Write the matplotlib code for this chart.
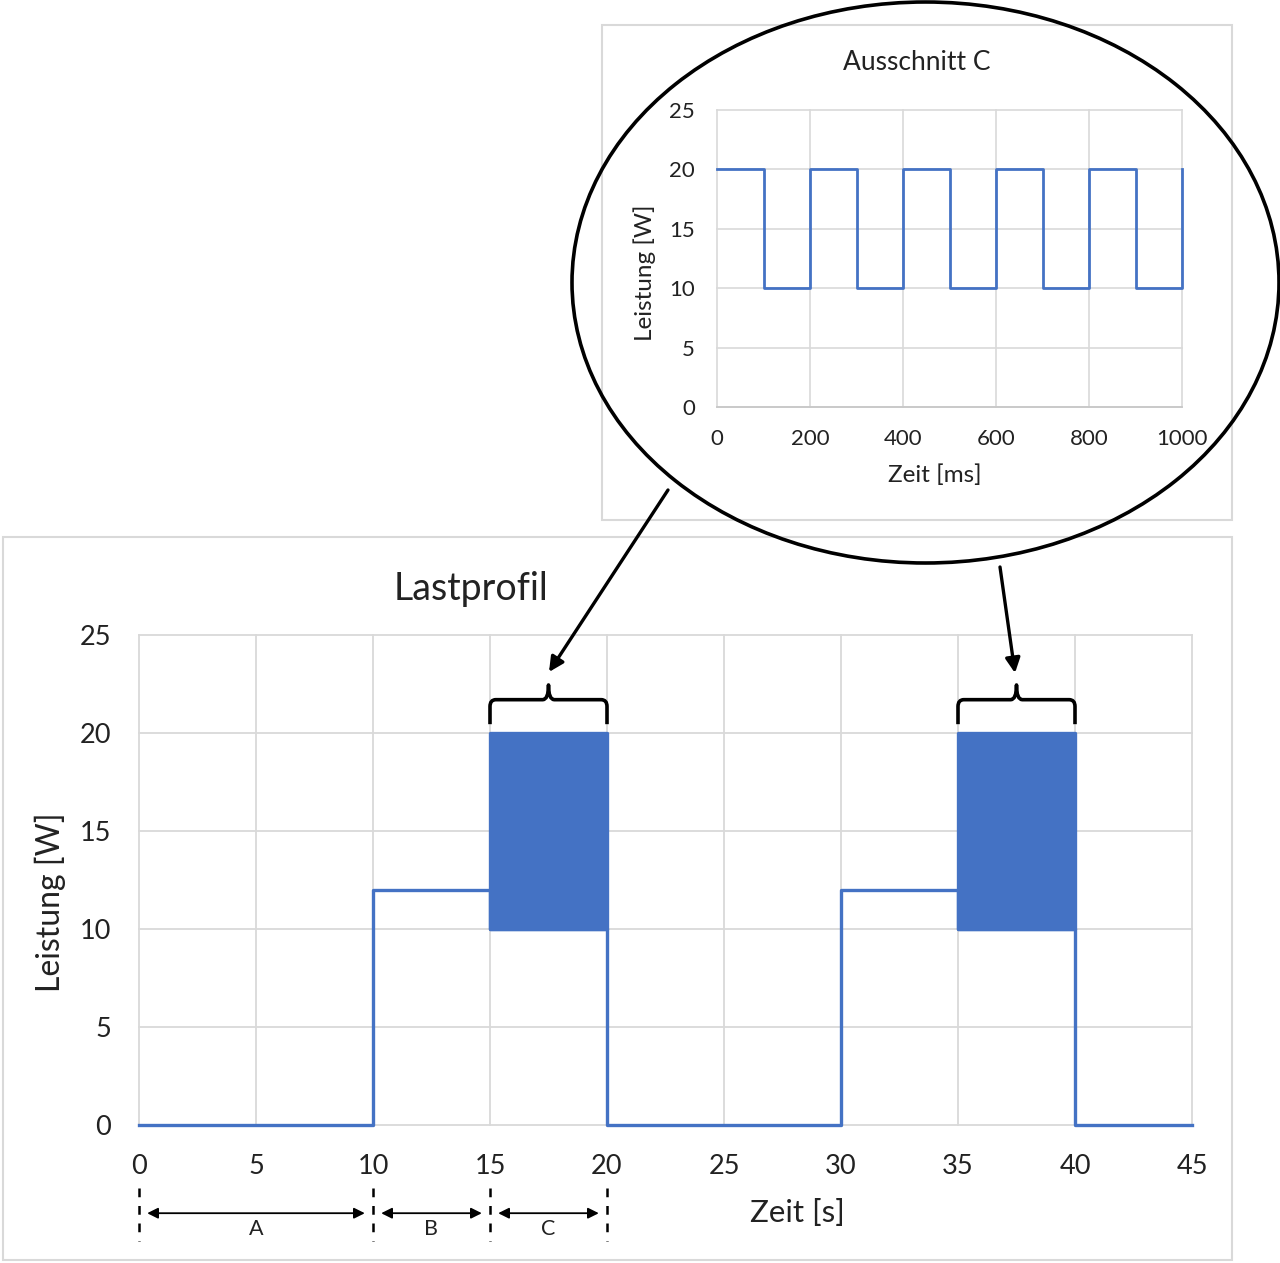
import matplotlib
matplotlib.use("Agg")
import matplotlib.pyplot as plt
from matplotlib.patches import Ellipse, Rectangle, PathPatch
from matplotlib.path import Path
import matplotlib.transforms as mtransforms

plt.rcParams['font.family'] = ['Lato', 'DejaVu Sans']

# ---------------- data ----------------
# main load profile: piecewise segments (low == high -> constant; low < high -> fast 10/20 W switching)
seg_start_s = [0, 10, 15, 20, 30, 35, 40]
seg_end_s = [10, 15, 20, 30, 35, 40, 45]
seg_low_W = [0, 12, 10, 0, 12, 10, 0]
seg_high_W = [0, 12, 20, 0, 12, 20, 0]

main_xticks = [0, 5, 10, 15, 20, 25, 30, 35, 40, 45]
main_yticks = [0, 5, 10, 15, 20, 25]

# inset "Ausschnitt C": square wave
inset_time_ms = [0, 100, 200, 300, 400, 500, 600, 700, 800, 900, 1000]
inset_power_W = [20, 10, 20, 10, 20, 10, 20, 10, 20, 10, 20]
inset_xticks = [0, 200, 400, 600, 800, 1000]
inset_yticks = [0, 5, 10, 15, 20, 25]

# phase annotations
phase_bounds_s = [0, 10, 15, 20]
phase_labels = ["A", "B", "C"]

# brace locations (bursts)
brace_ranges = [(15, 20), (35, 40)]

BLUE = "#4472C4"
GRID = "#d9d9d9"
W, H = 1280, 1263

fig = plt.figure(figsize=(W / 100, H / 100), dpi=100)
fig.patch.set_facecolor("white")


def fx(px):
    return px / W


def fy(py):
    return 1 - py / H


# ---------------- background frames ----------------
bg = fig.add_axes([0, 0, 1, 1], zorder=0)
bg.set_xlim(0, W)
bg.set_ylim(H, 0)
bg.axis("off")
bg.add_patch(Rectangle((3, 537), 1229, 723, fill=False, edgecolor=GRID, lw=1.5))
bg.add_patch(Rectangle((602, 25), 630, 495, facecolor="white", edgecolor=GRID, lw=1.5))

# ---------------- main axes ----------------
ax = fig.add_axes([fx(139), fy(1125), fx(1192) - fx(139), fy(635) - fy(1125)], zorder=1)
ax.set_facecolor("none")
ax.set_xlim(0, 45)
ax.set_ylim(0, 25)
ax.set_xticks(main_xticks)
ax.set_yticks(main_yticks)
ax.grid(True, color=GRID, lw=1.3)
ax.set_axisbelow(True)
for s in ax.spines.values():
    s.set_visible(False)
ax.tick_params(length=0, labelsize=19.5, colors="#222222")
ax.tick_params(axis="x", pad=21)
ax.tick_params(axis="y", pad=20)
for gl in ax.get_xgridlines() + ax.get_ygridlines():
    gl.set_clip_on(False)

xs = list(seg_start_s) + [seg_end_s[-1]]
ys = list(seg_low_W) + [seg_low_W[-1]]
ax.plot(xs, ys, drawstyle="steps-post", color=BLUE, lw=2.4, clip_on=False, zorder=3)
for a, b, lo, hi in zip(seg_start_s, seg_end_s, seg_low_W, seg_high_W):
    if hi > lo:
        ax.fill_between([a, b], [lo, lo], [hi, hi], color=BLUE, lw=2.4, edgecolor=BLUE, zorder=3)

# braces
for (x0, x1) in brace_ranges:
    xc = (x0 + x1) / 2
    yb, ym, yt = 20.45, 21.7, 22.45
    dx, r = 0.25, 0.35
    verts = [
        (x0, yb), (x0, ym - r),
        (x0, ym), (x0 + dx, ym),
        (xc - dx, ym),
        (xc, ym), (xc, yt),
        (xc, ym), (xc + dx, ym),
        (x1 - dx, ym),
        (x1, ym), (x1, ym - r),
        (x1, yb),
    ]
    codes = [Path.MOVETO, Path.LINETO,
             Path.CURVE3, Path.CURVE3,
             Path.LINETO,
             Path.CURVE3, Path.CURVE3,
             Path.CURVE3, Path.CURVE3,
             Path.LINETO,
             Path.CURVE3, Path.CURVE3,
             Path.LINETO]
    ax.add_patch(PathPatch(Path(verts, codes), fill=False, lw=2.6, edgecolor="black",
                           clip_on=False, zorder=5, capstyle="butt", joinstyle="round"))

# phase dimension annotations
blend = mtransforms.blended_transform_factory(ax.transData, ax.transAxes)
for xb in phase_bounds_s:
    ax.plot([xb, xb], [-0.129, -0.237], transform=blend, clip_on=False,
            color="black", lw=1.8, ls=(0, (3.5, 3.5)))
for i, lab in enumerate(phase_labels):
    a, b = phase_bounds_s[i], phase_bounds_s[i + 1]
    ax.annotate("", xy=(b - 0.35, -0.18), xytext=(a + 0.35, -0.18),
                xycoords=blend, textcoords=blend,
                arrowprops=dict(arrowstyle="<|-|>", lw=1.3, color="black",
                                shrinkA=0, shrinkB=0, mutation_scale=16))
    ax.text((a + b) / 2, -0.213, lab, transform=blend, ha="center", va="center",
            fontsize=15.5, color="#222222")

fig.text(fx(471), fy(589), "Lastprofil", ha="center", va="center", fontsize=27, color="#222222")
fig.text(fx(50), fy(902), "Leistung [W]", ha="center", va="center", rotation=90,
         fontsize=23, color="#222222")
fig.text(fx(797), fy(1213), "Zeit [s]", ha="center", va="center", fontsize=22.5, color="#222222")

# ---------------- inset axes ----------------
ia = fig.add_axes([fx(717), fy(407), fx(1182) - fx(717), fy(110) - fy(407)], zorder=2)
ia.set_facecolor("none")
ia.set_xlim(0, 1000)
ia.set_ylim(0, 25)
ia.set_xticks(inset_xticks)
ia.set_yticks(inset_yticks)
ia.grid(True, color=GRID, lw=1.2)
ia.set_axisbelow(True)
for s in ia.spines.values():
    s.set_visible(False)
ia.spines["bottom"].set_visible(True)
ia.spines["bottom"].set_color("#c8c8c8")
ia.spines["bottom"].set_linewidth(1.3)
ia.tick_params(length=0, labelsize=16, colors="#222222")
ia.tick_params(axis="x", pad=16)
ia.tick_params(axis="y", pad=16)
for gl in ia.get_xgridlines() + ia.get_ygridlines():
    gl.set_clip_on(False)
ia.plot(inset_time_ms, inset_power_W, drawstyle="steps-post", color=BLUE, lw=2.0,
        clip_on=False, zorder=3)
fig.text(fx(917), fy(63), "Ausschnitt C", ha="center", va="center", fontsize=19, color="#222222")
fig.text(fx(645), fy(273), "Leistung [W]", ha="center", va="center", rotation=90,
         fontsize=17.5, color="#222222")
fig.text(fx(935), fy(475), "Zeit [ms]", ha="center", va="center", fontsize=17.5, color="#222222")

# ---------------- overlay: ellipse + connecting arrows ----------------
ov = fig.add_axes([0, 0, 1, 1], zorder=10)
ov.set_xlim(0, W)
ov.set_ylim(H, 0)
ov.axis("off")
ov.set_facecolor("none")
ov.add_patch(Ellipse((925.5, 282.5), 707, 561, fill=False, edgecolor="black", lw=2.6))
ov.annotate("", xy=(549, 672), xytext=(668, 490),
            arrowprops=dict(arrowstyle="-|>", lw=2.4, color="black", shrinkA=0, shrinkB=0,
                            mutation_scale=22))
ov.annotate("", xy=(1015, 673), xytext=(1000, 567),
            arrowprops=dict(arrowstyle="-|>", lw=2.4, color="black", shrinkA=0, shrinkB=0,
                            mutation_scale=22))

fig.savefig("out.png", dpi=100)
